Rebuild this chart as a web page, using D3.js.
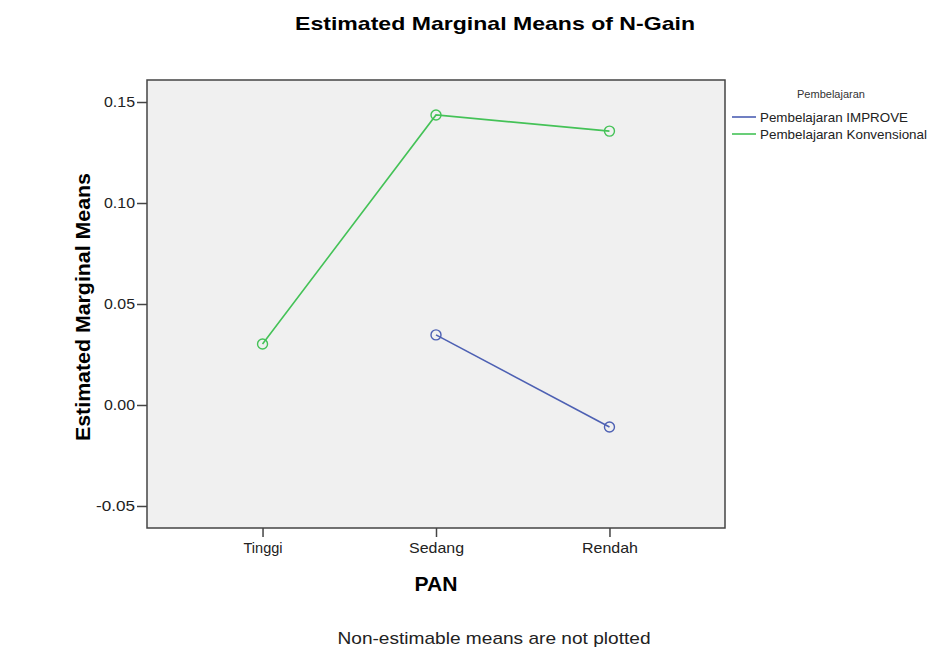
<!DOCTYPE html>
<html>
<head>
<meta charset="utf-8">
<script src="https://cdn.jsdelivr.net/npm/d3@7"></script>
<style>
body { margin: 0; background: #fff; }
text { font-family: "Liberation Sans", Arial, sans-serif; }
</style>
</head>
<body>
<div id="plot"></div>
<script>
// data
var pan = ["Tinggi", "Sedang", "Rendah"]
var yTicks = [-0.05, 0.00, 0.05, 0.10, 0.15]
var seriesNames = ["Pembelajaran IMPROVE", "Pembelajaran Konvensional"]
var improve = [null, 0.0347, -0.0109]   // Tinggi not estimable
var konvensional = [0.0302, 0.1436, 0.1356]
var colors = ["#4d60b3", "#44c257"]

var W = 930, H = 648
var box = {left: 147, right: 725, top: 80, bottom: 528}

var svg = d3.select("#plot").append("svg")
	.attr("width", W)
	.attr("height", H)

var x = d3.scalePoint()
	.domain(pan)
	.range([box.left, box.right])
	.padding(0.666)

var y = d3.scaleLinear()
	.domain([-0.0609, 0.1609])
	.range([box.bottom, box.top])

// plot area
svg.append("rect")
	.attr("x", box.left)
	.attr("y", box.top)
	.attr("width", box.right - box.left)
	.attr("height", box.bottom - box.top)
	.attr("fill", "#f0f0f0")
	.attr("stroke", "#444")
	.attr("stroke-width", 1.5)

// the picture is stretched sideways, so labels get a fixed length
var yLabW = {"-0.05": 39, "0.00": 31, "0.05": 31, "0.10": 31, "0.15": 31}
var xLabW = {"Tinggi": 39, "Sedang": 55, "Rendah": 56}

var yAxis = svg.append("g")
	.attr("transform", "translate(" + box.left + ",0)")
	.call(d3.axisLeft(y).tickValues(yTicks).tickSize(10).tickPadding(2)
		.tickFormat(function(d){ return d.toFixed(2) }))
yAxis.select(".domain").remove()
yAxis.selectAll("line").attr("stroke", "#444").attr("stroke-width", 1.5)
yAxis.selectAll("text")
	.style("font-size", "14.5px")
	.attr("fill", "#222")
	.attr("textLength", function(d){ return yLabW[d.toFixed(2)] })
	.attr("lengthAdjust", "spacingAndGlyphs")

var xAxis = svg.append("g")
	.attr("transform", "translate(0," + box.bottom + ")")
	.call(d3.axisBottom(x).tickSize(9).tickPadding(5))
xAxis.select(".domain").remove()
xAxis.selectAll("line").attr("stroke", "#444").attr("stroke-width", 1.5)
xAxis.selectAll("text")
	.style("font-size", "15px")
	.attr("fill", "#222")
	.attr("textLength", function(d){ return xLabW[d] })
	.attr("lengthAdjust", "spacingAndGlyphs")

// lines + markers
var all = [improve, konvensional]
all.forEach(function(vals, k){
	var pts = pan.map(function(p, i){ return {cat: p, v: vals[i]} })
		.filter(function(d){ return d.v != null })
	svg.append("path")
		.datum(pts)
		.attr("fill", "none")
		.attr("stroke", colors[k])
		.attr("stroke-width", 1.6)
		.attr("d", d3.line()
			.x(function(d){ return x(d.cat) })
			.y(function(d){ return y(d.v) }))
	svg.append("g").selectAll("circle")
		.data(pts)
		.enter()
		.append("circle")
			.attr("cx", function(d){ return x(d.cat) })
			.attr("cy", function(d){ return y(d.v) })
			.attr("r", 5)
			.attr("fill", "none")
			.attr("stroke", colors[k])
			.attr("stroke-width", 1.4)
})

// titles
svg.append("text")
	.attr("x", 495)
	.attr("y", 30)
	.attr("text-anchor", "middle")
	.style("font-size", "19px")
	.style("font-weight", "bold")
	.attr("textLength", 400)
	.attr("lengthAdjust", "spacingAndGlyphs")
	.text("Estimated Marginal Means of N-Gain")

svg.append("text")
	.attr("transform", "translate(90,307) rotate(-90)")
	.attr("text-anchor", "middle")
	.style("font-size", "21px")
	.style("font-weight", "bold")
	.attr("textLength", 268)
	.attr("lengthAdjust", "spacingAndGlyphs")
	.text("Estimated Marginal Means")

svg.append("text")
	.attr("x", 436)
	.attr("y", 591)
	.attr("text-anchor", "middle")
	.style("font-size", "21px")
	.style("font-weight", "bold")
	.attr("textLength", 43)
	.attr("lengthAdjust", "spacingAndGlyphs")
	.text("PAN")

svg.append("text")
	.attr("x", 494)
	.attr("y", 644)
	.attr("text-anchor", "middle")
	.style("font-size", "17px")
	.attr("fill", "#222")
	.attr("textLength", 313)
	.attr("lengthAdjust", "spacingAndGlyphs")
	.text("Non-estimable means are not plotted")

// legend
svg.append("text")
	.attr("x", 831)
	.attr("y", 98)
	.attr("text-anchor", "middle")
	.style("font-size", "10px")
	.attr("fill", "#333")
	.attr("textLength", 68)
	.attr("lengthAdjust", "spacingAndGlyphs")
	.text("Pembelajaran")

var legW = [148, 167]
seriesNames.forEach(function(n, i){
	var ly = 117 + i * 17
	svg.append("line")
		.attr("x1", 732).attr("x2", 756)
		.attr("y1", ly).attr("y2", ly)
		.attr("stroke", colors[i])
		.attr("stroke-width", 1.6)
	svg.append("text")
		.attr("x", 760)
		.attr("y", ly + 5)
		.style("font-size", "13px")
		.attr("fill", "#222")
		.attr("textLength", legW[i])
		.attr("lengthAdjust", "spacingAndGlyphs")
		.text(n)
})
</script>
</body>
</html>
